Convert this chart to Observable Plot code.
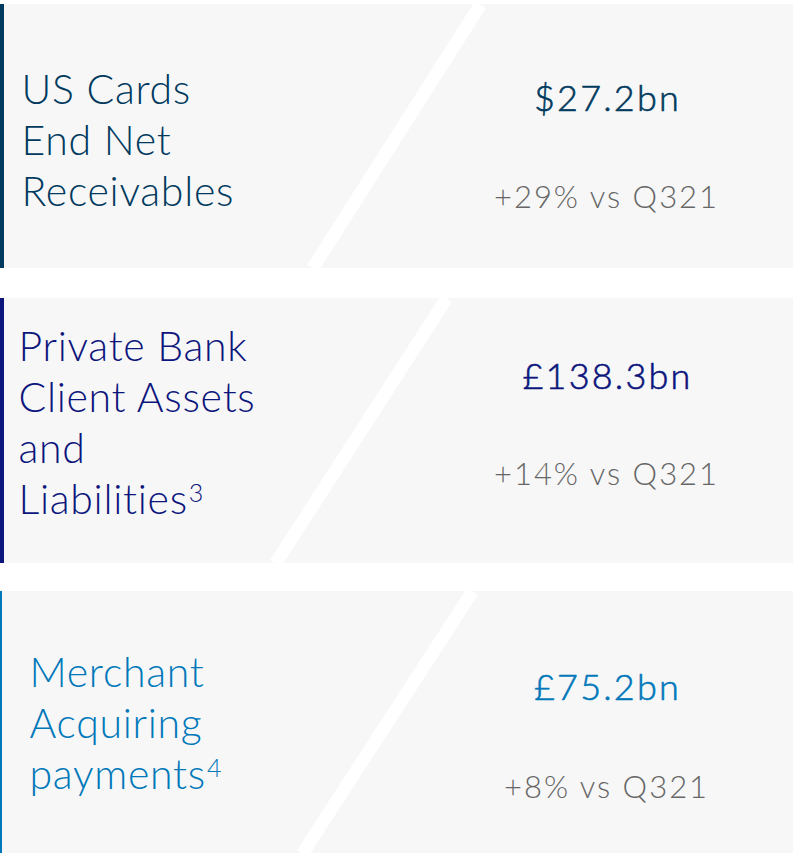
<!DOCTYPE html>
<html><head><meta charset="utf-8">
<script src="https://cdn.jsdelivr.net/npm/d3@7"></script>
<script src="https://cdn.jsdelivr.net/npm/@observablehq/plot@0.6"></script>
<style>
html,body{margin:0;padding:0;background:#fff;}
#chart svg{display:block;}
</style></head><body><div id="chart"></div>
<script>
// ---- data ----
const categories = [
  ["US Cards", "End Net", "Receivables"],
  ["Private Bank", "Client Assets", "and", "Liabilities³"],
  ["Merchant", "Acquiring", "payments⁴"]
];
const values = ["$27.2bn", "£138.3bn", "£75.2bn"];
const changes = ["+29% vs Q321", "+14% vs Q321", "+8% vs Q321"];

// ---- layout & style ----
const accents = ["#003a5e", "#0c157c", "#0078ba"];
const layout = [
  {top: 4,   bottom: 268, bar: 4, labelX: 21, labelY: 103, valueY: 110, changeY: 207, sTop: 480, sBot: 312},
  {top: 298, bottom: 563, bar: 4, labelX: 18, labelY: 360, valueY: 388, changeY: 484, sTop: 446, sBot: 275},
  {top: 591, bottom: 853, bar: 2, labelX: 29, labelY: 686, valueY: 699, changeY: 797, sTop: 472, sBot: 302}
];
const lineStep = 51;
const W = 793, H = 853;

const panels = layout.map((l, i) => ({...l, color: accents[i], value: values[i], change: changes[i]}));
const lines = categories.flatMap((ls, i) => ls.map((t, j) => ({
  text: t, x: layout[i].labelX, y: layout[i].labelY + j * lineStep, color: accents[i]
})));

const chart = Plot.plot({
  width: W, height: H, margin: 0,
  x: {domain: [0, W], range: [0, W], axis: null},
  y: {domain: [0, H], range: [0, H], axis: null},
  color: {type: "identity"},
  style: {background: "#ffffff", fontFamily: "Lato, sans-serif"},
  marks: [
    Plot.rect(panels, {x1: 0, x2: W, y1: "top", y2: "bottom", fill: "#f7f7f7"}),
    Plot.link(panels, {x1: "sTop", y1: "top", x2: "sBot", y2: "bottom", stroke: "#ffffff", strokeWidth: 13}),
    Plot.rect(panels, {x1: 0, x2: "bar", y1: "top", y2: "bottom", fill: "color"}),
    Plot.text(lines, {x: "x", y: "y", text: "text", fill: "color", fontSize: 41, fontWeight: 300,
      textAnchor: "start", lineAnchor: "bottom", fontFamily: "Lato"}),
    Plot.text(panels, {x: 607, y: "valueY", text: "value", fill: "color", stroke: "color", strokeWidth: 0.6,
      fontSize: 36, fontWeight: 300, textAnchor: "middle", lineAnchor: "bottom", fontFamily: "Lato"}),
    Plot.text(panels, {x: 606, y: "changeY", text: "change", fill: "#666666", fontSize: 31, fontWeight: 300,
      textAnchor: "middle", lineAnchor: "bottom", fontFamily: "Lato"})
  ]
});

// letter spacing per text layer, superscript footnote markers
const groups = chart.querySelectorAll('g[aria-label="text"]');
const spacing = ["0.7px", "2.2px", "2px"];
groups.forEach((g, i) => g.style.letterSpacing = spacing[i]);
const sup = {"³": "3", "⁴": "4"};
d3.select(chart).selectAll('g[aria-label="text"] text').each(function () {
  const t = this.textContent;
  const last = t.slice(-1);
  if (sup[last]) {
    this.textContent = t.slice(0, -1);
    d3.select(this).append("tspan").attr("dx", 1).attr("dy", -12)
      .style("font-size", "25px").text(sup[last]);
  }
});
document.getElementById("chart").append(chart);
</script></body></html>
